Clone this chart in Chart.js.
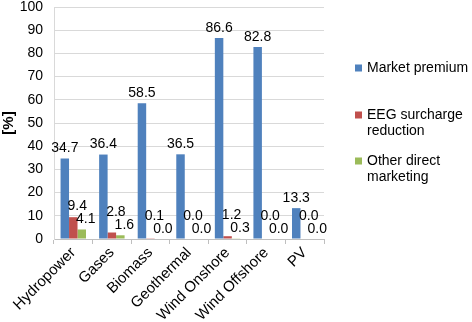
<!DOCTYPE html>
<html>
<head>
<meta charset="utf-8">
<script src="https://cdn.jsdelivr.net/npm/chart.js@4.4.1/dist/chart.umd.min.js"></script>
<style>
  html, body { margin: 0; padding: 0; background: #fff; }
  #wrap { position: relative; width: 472px; height: 322px; }
</style>
</head>
<body>
<div id="wrap"><canvas id="myChart"></canvas></div>
<script>
// data
const categories = ['Hydropower', 'Gases', 'Biomass', 'Geothermal', 'Wind Onshore', 'Wind Offshore', 'PV'];
const marketPremium = [34.7, 36.4, 58.5, 36.5, 86.6, 82.8, 13.3];
const eegReduction = [9.4, 2.8, 0.1, 0.0, 1.2, 0.0, 0.0];
const otherDirect = [4.1, 1.6, 0.0, 0.0, 0.3, 0.0, 0.0];
const seriesNames = [['Market premium'], ['EEG surcharge', 'reduction'], ['Other direct', 'marketing']];
const yTicks = [0, 10, 20, 30, 40, 50, 60, 70, 80, 90, 100];

const FONT = '"Liberation Sans", Arial, sans-serif';
const colors = ['#4f81bd', '#c0504d', '#9bbb59'];

// value labels above bars, with simple overlap avoidance (like Excel does)
const valueLabels = {
  id: 'valueLabels',
  afterDatasetsDraw(chart) {
    const ctx = chart.ctx;
    ctx.save();
    ctx.font = '14px ' + FONT;
    ctx.fillStyle = '#000';
    ctx.textAlign = 'center';
    ctx.textBaseline = 'bottom';
    const h = 12;
    categories.forEach((c, i) => {
      const placed = [];
      // green first, then red, then blue so the low ones keep their spot
      [2, 1, 0].forEach(d => {
        const bar = chart.getDatasetMeta(d).data[i];
        const v = chart.data.datasets[d].data[i];
        const txt = v.toFixed(1);
        const w = ctx.measureText(txt).width;
        const x = bar.x + (d === 0 ? 0 : 4);
        let y = bar.y - 3;
        placed.forEach(p => {
          const hOver = Math.abs(p.x - x) < (p.w + w) / 2;
          if (hOver && y > p.y - h - 2 && y - h < p.y) y = p.y - h - 1;
        });
        placed.push({ x, y, w });
        ctx.fillText(txt, x, y);
      });
    });
    ctx.restore();
  }
};

// legend on the right with wrapped labels
const sideLegend = {
  id: 'sideLegend',
  afterDraw(chart) {
    const ctx = chart.ctx;
    ctx.save();
    ctx.font = '14px ' + FONT;
    ctx.textBaseline = 'middle';
    const tops = [68, 115, 161];
    seriesNames.forEach((lines, k) => {
      ctx.fillStyle = colors[k];
      ctx.fillRect(355, tops[k] - 3.5, 7, 7);
      ctx.fillStyle = '#000';
      lines.forEach((ln, j) => ctx.fillText(ln, 367, tops[k] + j * 16.5));
    });
    ctx.restore();
  }
};

const ctx = document.getElementById('myChart').getContext('2d');
new Chart(ctx, {
  type: 'bar',
  data: {
    labels: categories,
    datasets: [
      { label: seriesNames[0].join(' '), data: marketPremium, backgroundColor: colors[0] },
      { label: seriesNames[1].join(' '), data: eegReduction, backgroundColor: colors[1] },
      { label: seriesNames[2].join(' '), data: otherDirect, backgroundColor: colors[2] }
    ]
  },
  options: {
    responsive: true,
    maintainAspectRatio: false,
    animation: false,
    layout: { padding: { top: 0, right: 148, left: 0, bottom: 0 } },
    datasets: { bar: { categoryPercentage: 0.66, barPercentage: 1.0 } },
    plugins: { legend: { display: false }, tooltip: { enabled: false } },
    scales: {
      x: {
        afterFit(axis) { axis.height = 83; },
        grid: { display: true, drawOnChartArea: false, tickLength: 5, color: '#bfbfbf', offset: true },
        border: { color: '#bfbfbf' },
        ticks: { font: { size: 15, family: FONT }, color: '#000', minRotation: 45, maxRotation: 45, padding: 0 }
      },
      y: {
        min: 0, max: 100,
        afterBuildTicks(axis) { axis.ticks = yTicks.map(v => ({ value: v })); },
        afterFit(axis) { axis.paddingTop = 7; axis.width = 54; },
        grid: { color: '#d9d9d9', drawTicks: false },
        border: { color: '#d9d9d9' },
        ticks: { font: { size: 14, family: FONT }, color: '#000', padding: 11 },
        title: { display: true, text: '[%]', font: { size: 15, weight: 'bold', family: FONT, lineHeight: 1 }, color: '#000', padding: 1 }
      }
    }
  },
  plugins: [valueLabels, sideLegend]
});
</script>
</body>
</html>
